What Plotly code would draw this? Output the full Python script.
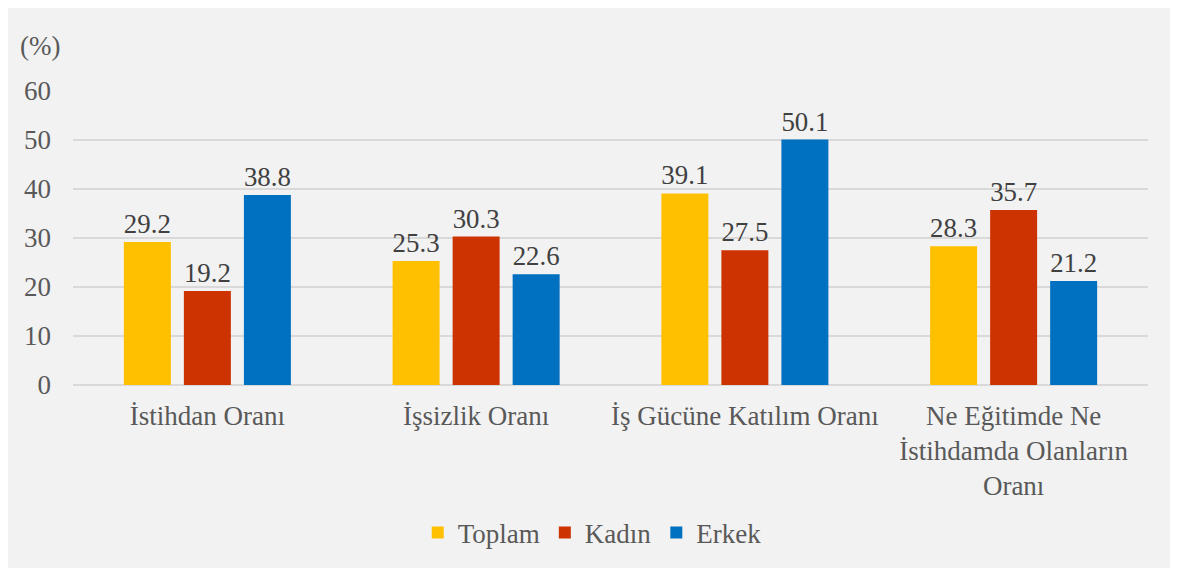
import plotly.graph_objects as go

categories = ["İstihdan Oranı", "İşsizlik Oranı", "İş Gücüne Katılım Oranı",
              "Ne Eğitimde Ne<br>İstihdamda Olanların<br>Oranı"]
toplam = [29.2, 25.3, 39.1, 28.3]
kadin = [19.2, 30.3, 27.5, 35.7]
erkek = [38.8, 22.6, 50.1, 21.2]
series = [("Toplam", toplam, "#FFC000"), ("Kadın", kadin, "#CC3300"), ("Erkek", erkek, "#0070C0")]
yticks = [0, 10, 20, 30, 40, 50, 60]

font = "Liberation Serif"
FS = 27
fig = go.Figure()
for name, vals, col in series:
    fig.add_trace(go.Bar(
        x=categories, y=vals, name=name, marker_color=col, marker_line_width=0,
        text=[f"{v:.1f}" for v in vals], textposition="outside",
        textfont=dict(family=font, size=FS, color="#404040"), cliponaxis=False,
    ))

W, H = 1165, 560
L, T = 65, 83
PR, PB = 1140, 378
fig.update_layout(
    width=W, height=H,
    margin=dict(l=L, r=W - PR, t=T, b=H - PB),
    paper_bgcolor="#f2f2f2", plot_bgcolor="#f2f2f2",
    barmode="group", bargap=0.33, bargroupgap=0.217,
    font=dict(family=font, size=FS, color="#595959"),
    showlegend=True,
    legend=dict(orientation="h", x=0.483, xanchor="center", y=-0.498, yanchor="middle",
                font=dict(family=font, size=FS, color="#595959"),
                itemwidth=30, traceorder="normal", bgcolor="rgba(0,0,0,0)"),
    xaxis=dict(tickfont=dict(family=font, size=FS, color="#595959"), showline=False,
               ticks="", showgrid=False, ticklabelstandoff=12),
    yaxis=dict(range=[0, 60], tickvals=yticks, showgrid=True, gridcolor="#d9d9d9",
               gridwidth=2, zeroline=True, zerolinecolor="#d9d9d9", zerolinewidth=2,
               tickfont=dict(family=font, size=FS, color="#595959"), ticks="",
               ticklabelstandoff=21),
    annotations=[dict(text="(%)", xref="paper", yref="paper", x=(32 - L) / (PR - L),
                      y=(PB - 38) / (PB - T),
                      xanchor="center", yanchor="middle", showarrow=False,
                      font=dict(family=font, size=FS, color="#595959"))],
)
fig.write_html("out.html")
